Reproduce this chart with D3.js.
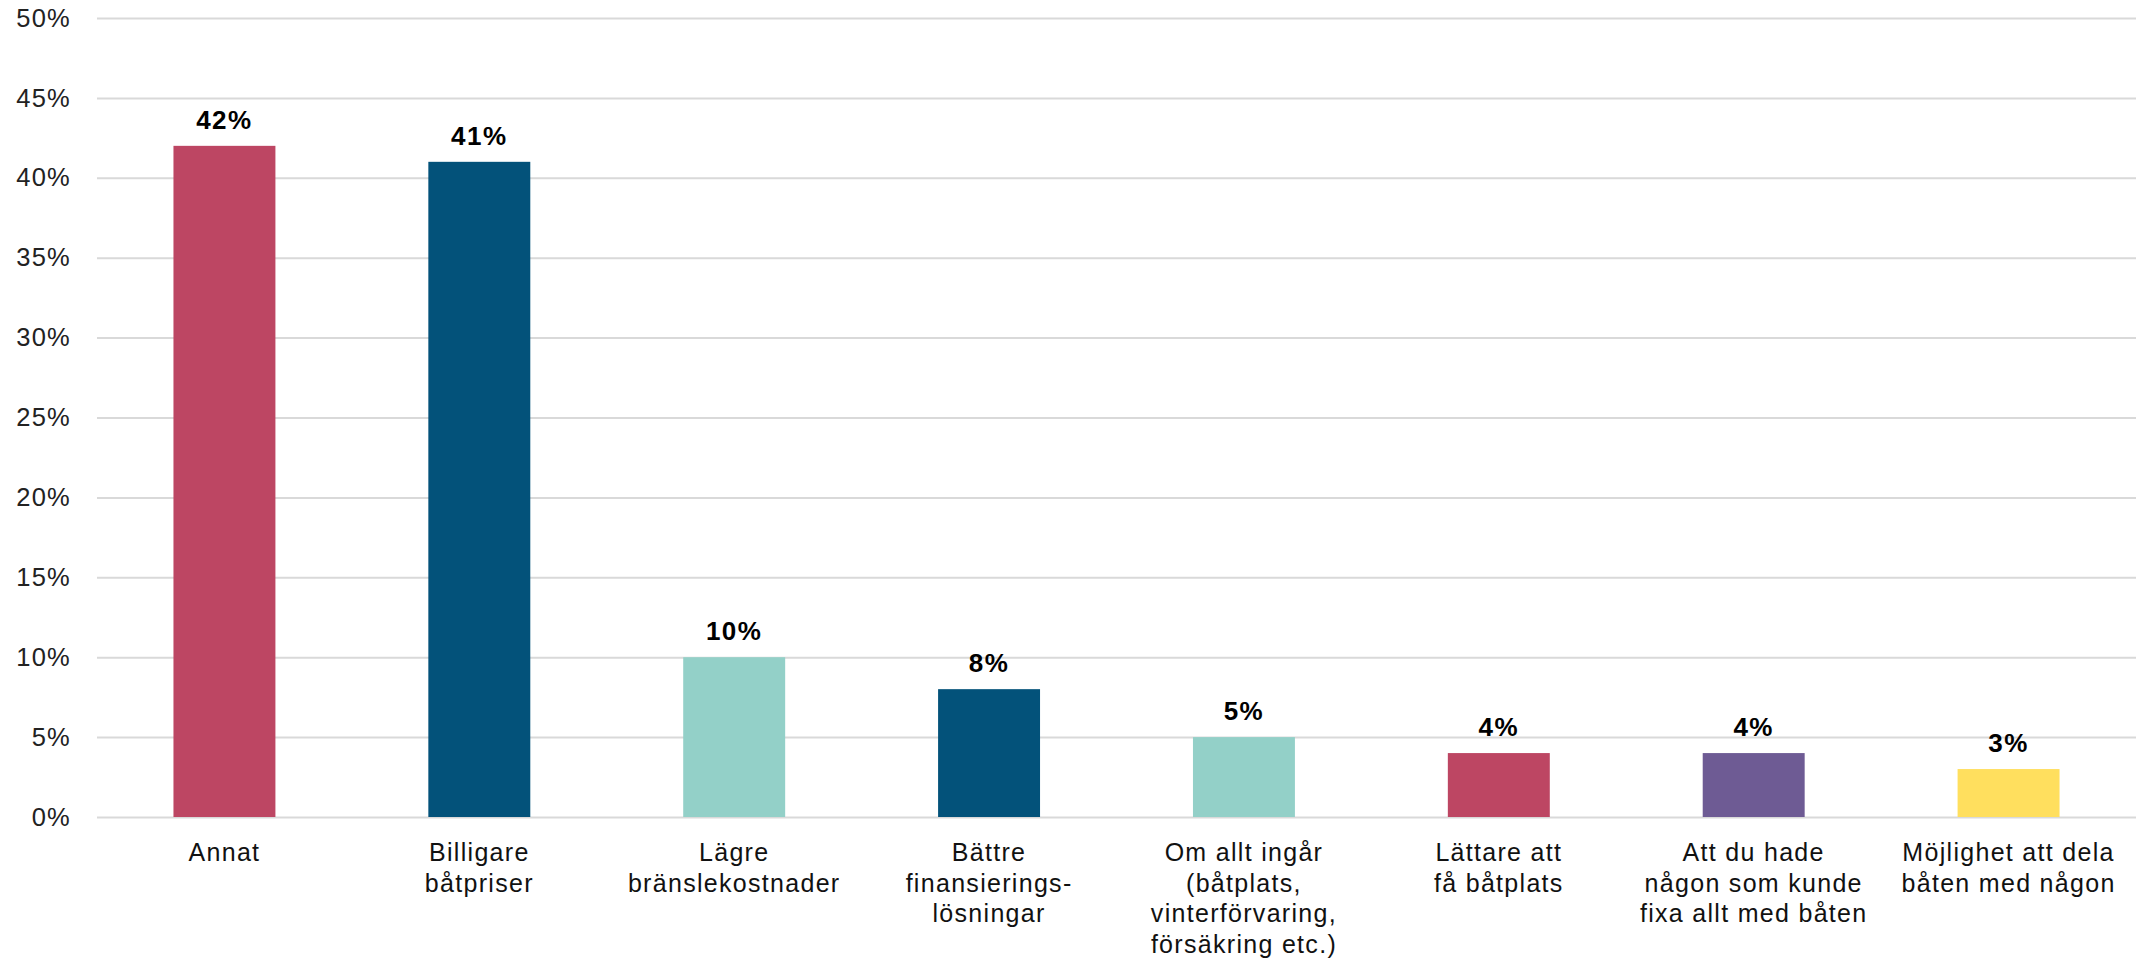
<!DOCTYPE html>
<html>
<head>
<meta charset="utf-8">
<script src="https://cdn.jsdelivr.net/npm/d3@7"></script>
<style>
  body { margin: 0; background: #fff; }
  svg { display: block; }
  .tick text { font-family: "Liberation Sans", Arial, sans-serif; }
</style>
</head>
<body>
<div id="chart"></div>
<script>
////////////////////
// DATA
var categories = [
  "Annat",
  "Billigare båtpriser",
  "Lägre bränslekostnader",
  "Bättre finansieringslösningar",
  "Om allt ingår (båtplats, vinterförvaring, försäkring etc.)",
  "Lättare att få båtplats",
  "Att du hade någon som kunde fixa allt med båten",
  "Möjlighet att dela båten med någon"
];
var labelLines = [
  ["Annat"],
  ["Billigare", "båtpriser"],
  ["Lägre", "bränslekostnader"],
  ["Bättre", "finansierings-", "lösningar"],
  ["Om allt ingår", "(båtplats,", "vinterförvaring,", "försäkring etc.)"],
  ["Lättare att", "få båtplats"],
  ["Att du hade", "någon som kunde", "fixa allt med båten"],
  ["Möjlighet att dela", "båten med någon"]
];
var values = [42, 41, 10, 8, 5, 4, 4, 3];
var barColors = ["#bd4663", "#03527a", "#93d0c8", "#03527a", "#93d0c8", "#bd4663", "#6e5b94", "#ffdf5e"];
var yTicks = [0, 5, 10, 15, 20, 25, 30, 35, 40, 45, 50];

////////////////////
// LAYOUT
var W = 2136, H = 961;
var margin = {top: 18, right: 0, bottom: 144, left: 97};
var width = W - margin.left - margin.right;
var height = H - margin.top - margin.bottom;

var svg = d3.select("#chart").append("svg")
  .attr("width", W)
  .attr("height", H);
var g = svg.append("g")
  .attr("transform", "translate(" + margin.left + "," + margin.top + ")");

var x = d3.scaleBand()
  .domain(categories)
  .range([0, width])
  .paddingInner(0.6)
  .paddingOuter(0.3);
var y = d3.scaleLinear()
  .domain([0, 50])
  .range([height, 0]);

////////////////////
// GRID + Y AXIS
var yAxis = g.append("g")
  .call(d3.axisLeft(y)
    .tickValues(yTicks)
    .tickSize(-width)
    .tickPadding(26)
    .tickFormat(function(d) { return d + "%"; }));
yAxis.select(".domain").remove();
yAxis.selectAll(".tick line")
  .attr("stroke", "#d9d9d9")
  .attr("stroke-width", 2);
yAxis.selectAll(".tick text")
  .attr("fill", "#222")
  .attr("font-size", 25.5)
  .attr("letter-spacing", 1.2);

////////////////////
// BARS
g.selectAll(".bar")
  .data(values)
  .enter().append("rect")
  .attr("class", "bar")
  .attr("x", function(d, i) { return x(categories[i]); })
  .attr("width", x.bandwidth())
  .attr("y", function(d) { return y(d); })
  .attr("height", function(d) { return height - y(d); })
  .attr("fill", function(d, i) { return barColors[i]; });

// value labels
g.selectAll(".val")
  .data(values)
  .enter().append("text")
  .attr("class", "val")
  .attr("x", function(d, i) { return x(categories[i]) + x.bandwidth() / 2; })
  .attr("y", function(d) { return y(d) - 17; })
  .attr("text-anchor", "middle")
  .attr("font-family", "Liberation Sans, Arial, sans-serif")
  .attr("font-weight", "bold")
  .attr("font-size", 26)
  .attr("letter-spacing", 1.5)
  .attr("fill", "#000")
  .text(function(d) { return d + "%"; });

////////////////////
// CATEGORY LABELS
var cat = g.selectAll(".cat")
  .data(labelLines)
  .enter().append("text")
  .attr("class", "cat")
  .attr("text-anchor", "middle")
  .attr("font-family", "Liberation Sans, Arial, sans-serif")
  .attr("font-size", 25)
  .attr("letter-spacing", 1.3)
  .attr("fill", "#111")
  .attr("transform", function(d, i) {
    return "translate(" + (x(categories[i]) + x.bandwidth() / 2) + "," + (height + 44) + ")";
  });
cat.selectAll("tspan")
  .data(function(d) { return d; })
  .enter().append("tspan")
  .attr("x", 0)
  .attr("y", function(d, i) { return i * 30.6; })
  .text(function(d) { return d; });
</script>
</body>
</html>
